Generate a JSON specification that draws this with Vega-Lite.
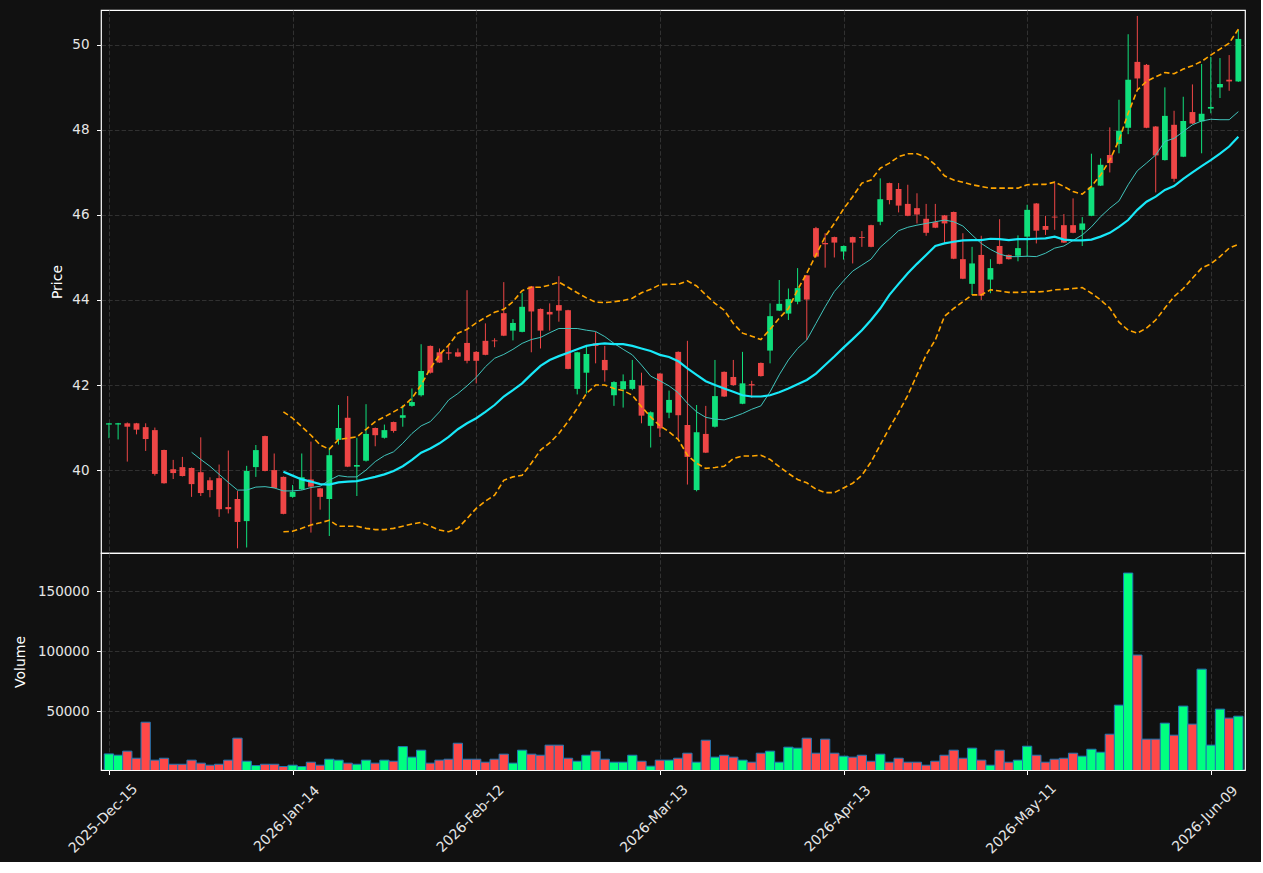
{
"$schema": "https://vega.github.io/schema/vega-lite/v6.json",
"background": "#111111",
"padding": {"left": 12, "top": 9, "right": 15, "bottom": 5},
"spacing": 0,
"bounds": "flush",
"config": {
  "view": {"stroke": "#ffffff", "strokeWidth": 1.2, "fill": "#111111"},
  "axis": {"labelColor": "#e6e6e6", "titleColor": "#ffffff", "labelFont": "DejaVu Sans", "titleFont": "DejaVu Sans", "labelFontSize": 13.5, "titleFontSize": 14, "titleFontWeight": "normal", "tickColor": "#ffffff", "tickSize": 4.5, "tickWidth": 1, "domain": false, "gridColor": "#3a3a3a", "gridDash": [4.5, 2.2], "gridWidth": 0.8, "labelPadding": 7.5}
},
"datasets": {"d": [
{"i":0,"date":"2025-12-15","o":41.07,"h":41.11,"l":40.75,"c":41.10,"v":14400},
{"i":1,"date":"2025-12-16","o":41.07,"h":41.11,"l":40.72,"c":41.10,"v":13300},
{"i":2,"date":"2025-12-17","o":41.10,"h":41.12,"l":40.20,"c":41.02,"v":16700},
{"i":3,"date":"2025-12-18","o":41.10,"h":41.11,"l":40.84,"c":40.95,"v":10800},
{"i":4,"date":"2025-12-19","o":41.01,"h":41.10,"l":40.45,"c":40.73,"v":40800},
{"i":5,"date":"2025-12-22","o":40.94,"h":41.00,"l":39.87,"c":39.91,"v":9200},
{"i":6,"date":"2025-12-23","o":40.47,"h":40.48,"l":39.68,"c":39.69,"v":10800},
{"i":7,"date":"2025-12-24","o":40.02,"h":40.24,"l":39.79,"c":39.93,"v":5800},
{"i":8,"date":"2025-12-26","o":40.07,"h":40.31,"l":39.85,"c":39.86,"v":5800},
{"i":9,"date":"2025-12-29","o":40.05,"h":40.06,"l":39.37,"c":39.67,"v":9200,"ma10":40.42},
{"i":10,"date":"2025-12-30","o":39.95,"h":40.77,"l":39.39,"c":39.46,"v":6700,"ma10":40.25},
{"i":11,"date":"2025-12-31","o":39.76,"h":39.83,"l":39.36,"c":39.53,"v":5000,"ma10":40.09},
{"i":12,"date":"2026-01-02","o":39.81,"h":40.13,"l":38.90,"c":39.08,"v":5800,"ma10":39.90},
{"i":13,"date":"2026-01-05","o":39.13,"h":40.46,"l":38.98,"c":39.08,"v":9200,"ma10":39.71},
{"i":14,"date":"2026-01-06","o":39.32,"h":39.51,"l":38.16,"c":38.78,"v":27500,"ma10":39.53},
{"i":15,"date":"2026-01-07","o":38.80,"h":40.10,"l":38.18,"c":39.98,"v":8300,"ma10":39.53},
{"i":16,"date":"2026-01-08","o":40.07,"h":40.59,"l":39.84,"c":40.47,"v":4700,"ma10":39.60},
{"i":17,"date":"2026-01-09","o":40.80,"h":40.81,"l":39.97,"c":39.98,"v":5800,"ma10":39.61},
{"i":18,"date":"2026-01-12","o":40.00,"h":40.39,"l":39.57,"c":39.58,"v":5800,"ma10":39.58},
{"i":19,"date":"2026-01-13","o":39.84,"h":39.85,"l":38.96,"c":38.97,"v":3900,"ma10":39.51,"ma20":39.96,"bbu":41.37,"bbl":38.55},
{"i":20,"date":"2026-01-14","o":39.37,"h":39.65,"l":39.35,"c":39.49,"v":5000,"ma10":39.51,"ma20":39.87,"bbu":41.22,"bbl":38.56},
{"i":21,"date":"2026-01-15","o":39.55,"h":40.39,"l":39.53,"c":39.83,"v":3900,"ma10":39.53,"ma20":39.78,"bbu":41.02,"bbl":38.63},
{"i":22,"date":"2026-01-16","o":39.78,"h":40.67,"l":38.53,"c":39.61,"v":7500,"ma10":39.59,"ma20":39.73,"bbu":40.82,"bbl":38.71},
{"i":23,"date":"2026-01-20","o":39.57,"h":39.58,"l":39.07,"c":39.37,"v":5000,"ma10":39.62,"ma20":39.67,"bbu":40.59,"bbl":38.76},
{"i":24,"date":"2026-01-21","o":39.32,"h":40.53,"l":38.45,"c":40.35,"v":10000,"ma10":39.76,"ma20":39.66,"bbu":40.49,"bbl":38.82},
{"i":25,"date":"2026-01-22","o":40.71,"h":41.53,"l":40.60,"c":40.99,"v":9200,"ma10":39.87,"ma20":39.71,"bbu":40.72,"bbl":38.68},
{"i":26,"date":"2026-01-23","o":41.23,"h":41.74,"l":40.07,"c":40.08,"v":6700,"ma10":39.84,"ma20":39.73,"bbu":40.75,"bbl":38.68},
{"i":27,"date":"2026-01-26","o":40.08,"h":40.76,"l":39.39,"c":40.12,"v":5800,"ma10":39.84,"ma20":39.74,"bbu":40.78,"bbl":38.68},
{"i":28,"date":"2026-01-27","o":40.22,"h":41.55,"l":40.20,"c":40.85,"v":9200,"ma10":40.00,"ma20":39.79,"bbu":40.96,"bbl":38.63},
{"i":29,"date":"2026-01-28","o":40.99,"h":41.00,"l":40.56,"c":40.82,"v":6700,"ma10":40.20,"ma20":39.84,"bbu":41.14,"bbl":38.60},
{"i":30,"date":"2026-01-29","o":40.76,"h":41.07,"l":40.74,"c":40.94,"v":9200,"ma10":40.34,"ma20":39.90,"bbu":41.25,"bbl":38.60},
{"i":31,"date":"2026-01-30","o":41.13,"h":41.14,"l":40.88,"c":40.92,"v":8300,"ma10":40.43,"ma20":39.98,"bbu":41.37,"bbl":38.63},
{"i":32,"date":"2026-02-02","o":41.23,"h":41.53,"l":41.02,"c":41.29,"v":20500,"ma10":40.63,"ma20":40.09,"bbu":41.49,"bbl":38.68},
{"i":33,"date":"2026-02-03","o":41.51,"h":41.92,"l":41.49,"c":41.60,"v":11700,"ma10":40.86,"ma20":40.24,"bbu":41.69,"bbl":38.73},
{"i":34,"date":"2026-02-04","o":41.76,"h":42.96,"l":41.73,"c":42.33,"v":17500,"ma10":41.04,"ma20":40.41,"bbu":42.00,"bbl":38.77},
{"i":35,"date":"2026-02-05","o":42.92,"h":42.93,"l":42.27,"c":42.29,"v":6700,"ma10":41.14,"ma20":40.51,"bbu":42.39,"bbl":38.68},
{"i":36,"date":"2026-02-06","o":42.77,"h":42.86,"l":42.52,"c":42.53,"v":9200,"ma10":41.37,"ma20":40.63,"bbu":42.71,"bbl":38.59},
{"i":37,"date":"2026-02-09","o":42.77,"h":42.96,"l":42.59,"c":42.74,"v":10000,"ma10":41.65,"ma20":40.78,"bbu":42.94,"bbl":38.55},
{"i":38,"date":"2026-02-10","o":42.77,"h":42.86,"l":42.66,"c":42.67,"v":23300,"ma10":41.80,"ma20":40.96,"bbu":43.22,"bbl":38.63},
{"i":39,"date":"2026-02-11","o":42.99,"h":44.23,"l":42.51,"c":42.57,"v":10000,"ma10":41.98,"ma20":41.10,"bbu":43.31,"bbl":38.86},
{"i":40,"date":"2026-02-12","o":42.78,"h":42.80,"l":42.04,"c":42.57,"v":10000,"ma10":42.18,"ma20":41.22,"bbu":43.46,"bbl":39.10},
{"i":41,"date":"2026-02-13","o":43.04,"h":43.45,"l":42.70,"c":42.71,"v":7500,"ma10":42.43,"ma20":41.37,"bbu":43.59,"bbl":39.27},
{"i":42,"date":"2026-02-17","o":43.05,"h":43.10,"l":42.89,"c":43.03,"v":10000,"ma10":42.63,"ma20":41.53,"bbu":43.71,"bbl":39.41},
{"i":43,"date":"2026-02-18","o":43.69,"h":44.42,"l":43.15,"c":43.16,"v":14200,"ma10":42.72,"ma20":41.73,"bbu":43.78,"bbl":39.76},
{"i":44,"date":"2026-02-19","o":43.28,"h":43.55,"l":43.05,"c":43.46,"v":6700,"ma10":42.84,"ma20":41.88,"bbu":43.96,"bbl":39.84},
{"i":45,"date":"2026-02-20","o":43.25,"h":44.17,"l":43.24,"c":43.84,"v":17500,"ma10":42.98,"ma20":42.04,"bbu":44.22,"bbl":39.88},
{"i":46,"date":"2026-02-23","o":44.32,"h":44.33,"l":42.77,"c":43.73,"v":14200,"ma10":43.07,"ma20":42.25,"bbu":44.30,"bbl":40.16},
{"i":47,"date":"2026-02-24","o":43.79,"h":43.80,"l":42.86,"c":43.28,"v":13300,"ma10":43.12,"ma20":42.45,"bbu":44.30,"bbl":40.47},
{"i":48,"date":"2026-02-25","o":43.72,"h":43.92,"l":43.28,"c":43.66,"v":21700,"ma10":43.23,"ma20":42.59,"bbu":44.35,"bbl":40.64},
{"i":49,"date":"2026-02-26","o":43.88,"h":44.56,"l":43.49,"c":43.75,"v":21700,"ma10":43.33,"ma20":42.68,"bbu":44.42,"bbl":40.86},
{"i":50,"date":"2026-02-27","o":43.76,"h":43.77,"l":42.37,"c":42.38,"v":10800,"ma10":43.33,"ma20":42.76,"bbu":44.30,"bbl":41.14},
{"i":51,"date":"2026-03-02","o":41.91,"h":42.78,"l":41.78,"c":42.77,"v":8300,"ma10":43.33,"ma20":42.84,"bbu":44.17,"bbl":41.45},
{"i":52,"date":"2026-03-03","o":42.29,"h":42.94,"l":41.80,"c":42.73,"v":13300,"ma10":43.29,"ma20":42.92,"bbu":44.05,"bbl":41.80},
{"i":53,"date":"2026-03-04","o":42.98,"h":43.25,"l":42.51,"c":42.92,"v":16700,"ma10":43.26,"ma20":42.96,"bbu":43.95,"bbl":42.00},
{"i":54,"date":"2026-03-05","o":42.59,"h":42.92,"l":42.08,"c":42.35,"v":10000,"ma10":43.14,"ma20":42.98,"bbu":43.94,"bbl":42.00},
{"i":55,"date":"2026-03-06","o":41.76,"h":42.09,"l":41.51,"c":42.07,"v":7500,"ma10":42.98,"ma20":42.96,"bbu":43.96,"bbl":41.92},
{"i":56,"date":"2026-03-09","o":41.90,"h":42.25,"l":41.47,"c":42.09,"v":7500,"ma10":42.84,"ma20":42.96,"bbu":43.99,"bbl":41.87},
{"i":57,"date":"2026-03-10","o":41.91,"h":42.59,"l":41.88,"c":42.12,"v":13300,"ma10":42.71,"ma20":42.92,"bbu":44.04,"bbl":41.76},
{"i":58,"date":"2026-03-11","o":41.99,"h":42.29,"l":41.10,"c":41.28,"v":8300,"ma10":42.47,"ma20":42.86,"bbu":44.17,"bbl":41.49},
{"i":59,"date":"2026-03-12","o":41.04,"h":41.38,"l":40.53,"c":41.36,"v":4200,"ma10":42.21,"ma20":42.80,"bbu":44.25,"bbl":41.25},
{"i":60,"date":"2026-03-13","o":42.27,"h":42.28,"l":40.78,"c":40.98,"v":9200,"ma10":42.10,"ma20":42.71,"bbu":44.36,"bbl":41.04},
{"i":61,"date":"2026-03-16","o":41.35,"h":41.87,"l":41.22,"c":41.65,"v":9200,"ma10":41.98,"ma20":42.66,"bbu":44.37,"bbl":40.90},
{"i":62,"date":"2026-03-17","o":42.78,"h":42.79,"l":40.71,"c":41.29,"v":10800,"ma10":41.82,"ma20":42.56,"bbu":44.37,"bbl":40.72},
{"i":63,"date":"2026-03-18","o":41.06,"h":43.04,"l":39.66,"c":40.31,"v":15000,"ma10":41.57,"ma20":42.39,"bbu":44.45,"bbl":40.35},
{"i":64,"date":"2026-03-19","o":39.53,"h":41.53,"l":39.50,"c":40.89,"v":7500,"ma10":41.37,"ma20":42.24,"bbu":44.33,"bbl":40.16},
{"i":65,"date":"2026-03-20","o":40.85,"h":41.51,"l":40.40,"c":40.41,"v":25800,"ma10":41.24,"ma20":42.09,"bbu":44.12,"bbl":40.04},
{"i":66,"date":"2026-03-23","o":41.02,"h":42.59,"l":41.00,"c":41.74,"v":11700,"ma10":41.20,"ma20":42.00,"bbu":43.92,"bbl":40.06},
{"i":67,"date":"2026-03-24","o":42.31,"h":42.32,"l":41.72,"c":41.73,"v":13300,"ma10":41.18,"ma20":41.92,"bbu":43.76,"bbl":40.09},
{"i":68,"date":"2026-03-25","o":42.19,"h":42.59,"l":41.98,"c":42.00,"v":11700,"ma10":41.25,"ma20":41.84,"bbu":43.45,"bbl":40.27},
{"i":69,"date":"2026-03-26","o":41.56,"h":42.78,"l":41.55,"c":42.04,"v":9200,"ma10":41.33,"ma20":41.76,"bbu":43.22,"bbl":40.33},
{"i":70,"date":"2026-03-27","o":42.02,"h":42.10,"l":41.70,"c":41.99,"v":7500,"ma10":41.43,"ma20":41.73,"bbu":43.15,"bbl":40.33},
{"i":71,"date":"2026-03-30","o":42.52,"h":42.53,"l":42.20,"c":42.21,"v":15000,"ma10":41.51,"ma20":41.73,"bbu":43.07,"bbl":40.35},
{"i":72,"date":"2026-03-31","o":42.81,"h":43.92,"l":42.51,"c":43.62,"v":16700,"ma10":41.84,"ma20":41.76,"bbu":43.31,"bbl":40.25},
{"i":73,"date":"2026-04-01","o":43.75,"h":44.47,"l":43.74,"c":43.91,"v":7500,"ma10":42.24,"ma20":41.83,"bbu":43.57,"bbl":40.08},
{"i":74,"date":"2026-04-02","o":43.68,"h":44.27,"l":43.53,"c":44.02,"v":20000,"ma10":42.59,"ma20":41.92,"bbu":43.80,"bbl":39.92},
{"i":75,"date":"2026-04-06","o":43.96,"h":44.75,"l":43.90,"c":44.28,"v":19200,"ma10":42.86,"ma20":42.02,"bbu":44.24,"bbl":39.78},
{"i":76,"date":"2026-04-07","o":44.58,"h":44.59,"l":43.06,"c":44.01,"v":27500,"ma10":43.06,"ma20":42.12,"bbu":44.63,"bbl":39.70},
{"i":77,"date":"2026-04-08","o":45.69,"h":45.72,"l":45.00,"c":45.02,"v":15000,"ma10":43.45,"ma20":42.27,"bbu":45.06,"bbl":39.55},
{"i":78,"date":"2026-04-09","o":45.34,"h":45.57,"l":44.76,"c":45.31,"v":26700,"ma10":43.84,"ma20":42.47,"bbu":45.49,"bbl":39.47},
{"i":79,"date":"2026-04-10","o":45.48,"h":45.49,"l":45.00,"c":45.35,"v":15000,"ma10":44.20,"ma20":42.67,"bbu":45.80,"bbl":39.47},
{"i":80,"date":"2026-04-13","o":45.14,"h":45.28,"l":44.95,"c":45.27,"v":12500,"ma10":44.45,"ma20":42.88,"bbu":46.14,"bbl":39.58},
{"i":81,"date":"2026-04-14","o":45.48,"h":45.49,"l":44.86,"c":45.35,"v":11700,"ma10":44.68,"ma20":43.08,"bbu":46.43,"bbl":39.69},
{"i":82,"date":"2026-04-15","o":45.48,"h":45.62,"l":45.25,"c":45.46,"v":13300,"ma10":44.82,"ma20":43.29,"bbu":46.75,"bbl":39.88},
{"i":83,"date":"2026-04-16","o":45.76,"h":45.77,"l":45.24,"c":45.25,"v":8300,"ma10":44.96,"ma20":43.53,"bbu":46.82,"bbl":40.19},
{"i":84,"date":"2026-04-17","o":45.84,"h":46.86,"l":45.76,"c":46.37,"v":14200,"ma10":45.24,"ma20":43.80,"bbu":47.10,"bbl":40.59},
{"i":85,"date":"2026-04-20","o":46.75,"h":46.76,"l":46.25,"c":46.35,"v":7500,"ma10":45.43,"ma20":44.12,"bbu":47.22,"bbl":40.99},
{"i":86,"date":"2026-04-21","o":46.61,"h":46.75,"l":46.06,"c":46.22,"v":10800,"ma10":45.63,"ma20":44.38,"bbu":47.37,"bbl":41.36},
{"i":87,"date":"2026-04-22","o":46.26,"h":46.71,"l":45.97,"c":45.98,"v":7500,"ma10":45.71,"ma20":44.63,"bbu":47.44,"bbl":41.76},
{"i":88,"date":"2026-04-23","o":46.16,"h":46.51,"l":45.80,"c":46.01,"v":7500,"ma10":45.76,"ma20":44.85,"bbu":47.44,"bbl":42.24},
{"i":89,"date":"2026-04-24","o":45.91,"h":46.26,"l":45.51,"c":45.58,"v":5000,"ma10":45.80,"ma20":45.06,"bbu":47.36,"bbl":42.71},
{"i":90,"date":"2026-04-27","o":45.83,"h":46.26,"l":45.69,"c":45.70,"v":8300,"ma10":45.84,"ma20":45.27,"bbu":47.18,"bbl":43.06},
{"i":91,"date":"2026-04-28","o":45.99,"h":46.00,"l":45.33,"c":45.80,"v":13300,"ma10":45.88,"ma20":45.33,"bbu":46.92,"bbl":43.62},
{"i":92,"date":"2026-04-29","o":46.07,"h":46.08,"l":44.96,"c":44.97,"v":17500,"ma10":45.84,"ma20":45.37,"bbu":46.82,"bbl":43.80},
{"i":93,"date":"2026-04-30","o":44.96,"h":45.57,"l":44.49,"c":44.50,"v":10800,"ma10":45.74,"ma20":45.40,"bbu":46.77,"bbl":43.96},
{"i":94,"date":"2026-05-01","o":44.38,"h":45.25,"l":44.13,"c":44.86,"v":19200,"ma10":45.53,"ma20":45.41,"bbu":46.71,"bbl":44.12},
{"i":95,"date":"2026-05-04","o":45.06,"h":45.51,"l":44.00,"c":44.10,"v":9200,"ma10":45.33,"ma20":45.41,"bbu":46.67,"bbl":44.12},
{"i":96,"date":"2026-05-05","o":44.48,"h":44.96,"l":44.16,"c":44.75,"v":5000,"ma10":45.19,"ma20":45.44,"bbu":46.63,"bbl":44.24},
{"i":97,"date":"2026-05-06","o":45.27,"h":45.90,"l":44.84,"c":44.85,"v":17500,"ma10":45.08,"ma20":45.43,"bbu":46.63,"bbl":44.21},
{"i":98,"date":"2026-05-07","o":45.06,"h":45.07,"l":44.95,"c":44.96,"v":7500,"ma10":45.02,"ma20":45.41,"bbu":46.63,"bbl":44.18},
{"i":99,"date":"2026-05-08","o":45.04,"h":45.52,"l":44.91,"c":45.22,"v":9200,"ma10":45.02,"ma20":45.43,"bbu":46.63,"bbl":44.18},
{"i":100,"date":"2026-05-11","o":45.49,"h":46.24,"l":45.02,"c":46.12,"v":20800,"ma10":45.03,"ma20":45.43,"bbu":46.71,"bbl":44.19},
{"i":101,"date":"2026-05-12","o":46.27,"h":46.28,"l":45.33,"c":45.63,"v":13300,"ma10":45.02,"ma20":45.44,"bbu":46.72,"bbl":44.19},
{"i":102,"date":"2026-05-13","o":45.74,"h":45.98,"l":45.53,"c":45.65,"v":7500,"ma10":45.10,"ma20":45.45,"bbu":46.72,"bbl":44.20},
{"i":103,"date":"2026-05-14","o":45.96,"h":46.76,"l":45.65,"c":45.94,"v":10000,"ma10":45.22,"ma20":45.49,"bbu":46.77,"bbl":44.24},
{"i":104,"date":"2026-05-15","o":45.76,"h":46.02,"l":45.34,"c":45.35,"v":10800,"ma10":45.27,"ma20":45.42,"bbu":46.67,"bbl":44.25},
{"i":105,"date":"2026-05-18","o":45.76,"h":46.39,"l":45.57,"c":45.58,"v":15000,"ma10":45.40,"ma20":45.40,"bbu":46.55,"bbl":44.27},
{"i":106,"date":"2026-05-19","o":45.65,"h":45.95,"l":45.27,"c":45.80,"v":12500,"ma10":45.53,"ma20":45.40,"bbu":46.49,"bbl":44.29},
{"i":107,"date":"2026-05-20","o":45.98,"h":47.44,"l":45.97,"c":46.65,"v":18300,"ma10":45.72,"ma20":45.42,"bbu":46.67,"bbl":44.16},
{"i":108,"date":"2026-05-21","o":46.69,"h":47.33,"l":46.68,"c":47.18,"v":15800,"ma10":45.96,"ma20":45.49,"bbu":46.94,"bbl":44.00},
{"i":109,"date":"2026-05-22","o":47.41,"h":48.06,"l":47.00,"c":47.22,"v":30800,"ma10":46.16,"ma20":45.58,"bbu":47.29,"bbl":43.81},
{"i":110,"date":"2026-05-26","o":47.67,"h":48.71,"l":47.45,"c":47.98,"v":55000,"ma10":46.33,"ma20":45.72,"bbu":47.76,"bbl":43.48},
{"i":111,"date":"2026-05-27","o":48.05,"h":50.25,"l":47.90,"c":49.18,"v":165000,"ma10":46.71,"ma20":45.88,"bbu":48.39,"bbl":43.29},
{"i":112,"date":"2026-05-28","o":49.60,"h":50.68,"l":48.92,"c":49.21,"v":96700,"ma10":47.04,"ma20":46.12,"bbu":48.94,"bbl":43.22},
{"i":113,"date":"2026-05-29","o":49.53,"h":49.55,"l":48.04,"c":48.05,"v":26700,"ma10":47.22,"ma20":46.31,"bbu":49.14,"bbl":43.34},
{"i":114,"date":"2026-06-01","o":48.08,"h":48.09,"l":46.53,"c":47.40,"v":26700,"ma10":47.41,"ma20":46.43,"bbu":49.25,"bbl":43.53},
{"i":115,"date":"2026-06-02","o":47.29,"h":49.00,"l":47.28,"c":48.33,"v":40000,"ma10":47.73,"ma20":46.59,"bbu":49.35,"bbl":43.81},
{"i":116,"date":"2026-06-03","o":48.12,"h":48.45,"l":46.78,"c":46.85,"v":30000,"ma10":47.80,"ma20":46.68,"bbu":49.32,"bbl":44.08},
{"i":117,"date":"2026-06-04","o":47.37,"h":48.78,"l":47.36,"c":48.21,"v":54200,"ma10":47.96,"ma20":46.85,"bbu":49.43,"bbl":44.27},
{"i":118,"date":"2026-06-05","o":48.42,"h":49.07,"l":48.14,"c":48.15,"v":39200,"ma10":48.12,"ma20":47.00,"bbu":49.51,"bbl":44.51},
{"i":119,"date":"2026-06-08","o":48.20,"h":49.55,"l":47.45,"c":48.38,"v":85000,"ma10":48.21,"ma20":47.15,"bbu":49.61,"bbl":44.75},
{"i":120,"date":"2026-06-09","o":48.50,"h":49.72,"l":48.39,"c":48.54,"v":21700,"ma10":48.25,"ma20":47.29,"bbu":49.76,"bbl":44.85},
{"i":121,"date":"2026-06-10","o":49.00,"h":49.69,"l":48.75,"c":49.08,"v":51700,"ma10":48.24,"ma20":47.44,"bbu":49.90,"bbl":45.02},
{"i":122,"date":"2026-06-11","o":49.18,"h":49.76,"l":48.92,"c":49.14,"v":44200,"ma10":48.24,"ma20":47.61,"bbu":50.04,"bbl":45.22},
{"i":123,"date":"2026-06-12","o":49.14,"h":50.35,"l":49.13,"c":50.14,"v":45800,"ma10":48.43,"ma20":47.84,"bbu":50.37,"bbl":45.31}
]},
"vconcat": [
  {
    "width": 1144, "height": 543,
    "data": {"name": "d"},
    "encoding": {
      "x": {"field": "i", "type": "quantitative", "scale": {"domain": [-0.32, 123.18], "nice": false, "zero": false},
            "axis": {"values": [0, 20, 40, 60, 80, 100, 120], "labels": false, "ticks": false, "domain": false, "title": null, "grid": true}}
    },
    "layer": [
      {"mark": {"type": "rule", "strokeWidth": 1, "clip": true},
       "encoding": {
         "y": {"field": "l", "type": "quantitative", "title": "Price", "scale": {"domain": [38.05, 50.82], "nice": false, "zero": false},
               "axis": {"values": [40, 42, 44, 46, 48, 50], "grid": true, "titlePadding": 7}},
         "y2": {"field": "h"},
         "color": {"condition": {"test": "datum.c >= datum.o", "value": "#10e07c"}, "value": "#ee4646"}
       }},
      {"mark": {"type": "bar", "size": 5.8, "clip": true},
       "encoding": {
         "y": {"field": "o", "type": "quantitative", "title": "Price", "scale": {"domain": [38.05, 50.82], "nice": false, "zero": false}},
         "y2": {"field": "c"},
         "color": {"condition": {"test": "datum.c >= datum.o", "value": "#10e07c"}, "value": "#ee4646"}
       }},
      {"mark": {"type": "line", "color": "#ffa500", "strokeWidth": 1.6, "strokeDash": [5.5, 3], "clip": true},
       "encoding": {"y": {"field": "bbu", "type": "quantitative", "title": "Price", "scale": {"domain": [38.05, 50.82], "nice": false, "zero": false}}}},
      {"mark": {"type": "line", "color": "#ffa500", "strokeWidth": 1.6, "strokeDash": [5.5, 3], "clip": true},
       "encoding": {"y": {"field": "bbl", "type": "quantitative", "title": "Price", "scale": {"domain": [38.05, 50.82], "nice": false, "zero": false}}}},
      {"mark": {"type": "line", "color": "#40c4bc", "strokeWidth": 1, "clip": true},
       "encoding": {"y": {"field": "ma10", "type": "quantitative", "title": "Price", "scale": {"domain": [38.05, 50.82], "nice": false, "zero": false}}}},
      {"mark": {"type": "line", "color": "#18e8f8", "strokeWidth": 2.2, "clip": true},
       "encoding": {"y": {"field": "ma20", "type": "quantitative", "title": "Price", "scale": {"domain": [38.05, 50.82], "nice": false, "zero": false}}}}
    ]
  },
  {
    "width": 1144, "height": 217,
    "data": {"name": "d"},
    "mark": {"type": "bar", "size": 9.27, "stroke": "#1f77b4", "strokeWidth": 1, "clip": true},
    "encoding": {
      "x": {"field": "i", "type": "quantitative", "scale": {"domain": [-0.32, 123.18], "nice": false, "zero": false},
            "axis": {"values": [0, 20, 40, 60, 80, 100, 120], "title": null, "grid": true, "labelAngle": -45, "labelAlign": "center", "labelBaseline": "middle", "labelPadding": 44, "labelOffset": -6, "labelFontSize": 14, "labelFlush": false, "labelOverlap": false,
                     "labelExpr": "['2025-Dec-15','2026-Jan-14','2026-Feb-12','2026-Mar-13','2026-Apr-13','2026-May-11','2026-Jun-09'][round(datum.value / 20)]"}},
      "y": {"field": "v", "type": "quantitative", "title": "Volume", "scale": {"domain": [1000, 181700], "nice": false, "zero": false},
            "axis": {"values": [50000, 100000, 150000], "grid": true, "format": "d", "titlePadding": 10}},
      "fill": {"condition": {"test": "datum.c >= datum.o", "value": "#00ff80"}, "value": "#ff4848"}
    }
  }
]
}
